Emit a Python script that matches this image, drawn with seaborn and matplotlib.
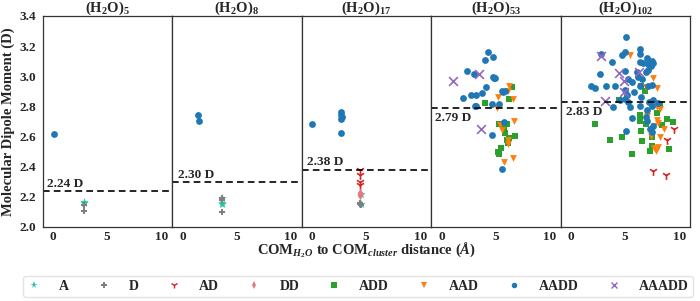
import matplotlib
matplotlib.use("Agg")
import matplotlib.pyplot as plt
import seaborn as sns
import pandas as pd

# clusters and their mean dipole (dashed line)
clusters = ["(H$_2$O)$_5$", "(H$_2$O)$_8$", "(H$_2$O)$_{17}$", "(H$_2$O)$_{53}$", "(H$_2$O)$_{102}$"]
means = [2.24, 2.30, 2.38, 2.79, 2.83]

types = ["A", "D", "AD", "DD", "ADD", "AAD", "AADD", "AAADD"]
colors = ["#22c4a2", "#7f7f7f", "#d62728", "#e8787e", "#2ca02c", "#ff7f0e", "#1f77b4", "#9467bd"]
markers = ["*", "P", "1", "d", "s", "v", "o", "x"]

# (H2O)5
w5_A_x = [2.9, 2.9]
w5_A_y = [2.168, 2.160]
w5_D_x = [2.9, 2.9]
w5_D_y = [2.146, 2.105]
w5_AADD_x = [0.05]
w5_AADD_y = [2.615]

# (H2O)8
w8_AADD_x = [1.4, 1.5]
w8_AADD_y = [2.743, 2.700]
w8_A_x = [3.6, 3.6, 3.6]
w8_A_y = [2.195, 2.157, 2.150]
w8_D_x = [3.6, 3.6, 3.6]
w8_D_y = [2.190, 2.180, 2.100]

# (H2O)17
w17_AADD_x = [0.0, 2.72, 2.72, 2.75, 2.72, 2.72]
w17_AADD_y = [2.683, 2.763, 2.743, 2.730, 2.717, 2.626]
w17_AD_x = [4.47, 4.47, 4.47, 4.47]
w17_AD_y = [2.378, 2.345, 2.300, 2.280]
w17_DD_x = [4.47, 4.47]
w17_DD_y = [2.225, 2.210]
w17_A_x = [4.5, 4.5]
w17_A_y = [2.220, 2.150]
w17_D_x = [4.45, 4.45, 4.5]
w17_D_y = [2.160, 2.150, 2.145]

# (H2O)53
w53_AADD_x = [4.25, 4.04, 4.72, 2.33, 3.01, 4.72, 4.94, 4.1, 3.78, 3.17, 2.7, 1.96, 5.65, 5.9,
              3.07, 4.66, 5.28, 4.62, 5.55, 5.74, 4.8, 5.6, 3.2]
w53_AADD_y = [3.159, 3.106, 3.126, 3.033, 3.017, 2.993, 2.989, 2.931, 2.887, 2.878, 2.874, 2.856,
              2.898, 2.905, 2.803, 2.814, 2.814, 2.612, 2.385, 2.695, 2.99, 2.90, 2.80]
w53_AAADD_x = [1.02, 3.48, 3.69]
w53_AAADD_y = [2.969, 3.017, 2.650]
w53_ADD_x = [6.49, 6.27, 4.04, 5.31, 6.02, 5.8, 5.84, 6.27, 6.8, 6.1, 5.5, 5.18, 5.34, 5.5, 6.0]
w53_ADD_y = [2.931, 2.851, 2.825, 2.681, 2.683, 2.666, 2.622, 2.593, 2.604, 2.555, 2.526, 2.500,
             2.484, 2.68, 2.58]
w53_AAD_x = [6.21, 6.18, 5.25, 6.58, 5.13, 5.41, 6.68, 6.11, 5.81, 6.58, 5.6, 6.1]
w53_AAD_y = [2.938, 2.905, 2.865, 2.849, 2.792, 2.679, 2.703, 2.551, 2.429, 2.456, 2.64, 2.575]

# (H2O)102
w102_AADD_x = [5.03, 2.80, 3.79, 4.69, 4.97, 6.37, 6.40, 6.37, 6.68, 7.05, 7.30, 7.46, 7.14, 7.61,
               7.08, 7.36, 5.0, 2.70, 6.06, 6.15, 6.52, 6.90, 5.65, 5.28, 1.80, 2.17, 3.20, 4.06,
               4.97, 6.37, 7.14, 7.46, 5.84, 5.13, 4.97, 6.46, 3.88, 4.50, 5.28, 5.44, 6.37, 7.24,
               7.55, 8.05, 7.49, 6.99, 5.59, 6.93, 7.05, 7.55, 7.30, 7.46, 5.03]
w102_AADD_y = [3.259, 3.148, 3.095, 3.139, 3.159, 3.179, 3.146, 3.097, 3.090, 3.119, 3.097, 3.101,
               3.082, 3.086, 3.042, 3.068, 3.033, 3.015, 3.031, 2.995, 2.982, 3.031, 2.964, 2.980,
               2.936, 2.920, 2.936, 2.936, 2.909, 2.936, 2.936, 2.940, 2.898, 2.876, 2.851, 2.865,
               2.798, 2.843, 2.832, 2.798, 2.803, 2.832, 2.843, 2.821, 2.803, 2.774, 2.721, 2.728,
               2.705, 2.670, 2.648, 2.632, 2.635]
w102_AAADD_x = [2.80, 4.44, 6.27, 4.90, 4.90, 3.10]
w102_AAADD_y = [3.135, 3.020, 3.031, 2.971, 2.898, 2.838]
w102_ADD_x = [6.46, 6.83, 4.44, 8.23, 6.37, 7.92, 6.37, 6.93, 8.85, 9.41, 2.17, 8.39, 6.43, 3.63,
              4.69, 6.55, 7.51, 7.46, 9.0, 7.30, 5.62]
w102_ADD_y = [2.936, 2.905, 2.843, 2.814, 2.743, 2.754, 2.705, 2.683, 2.715, 2.699, 2.683, 2.677,
              2.639, 2.577, 2.595, 2.573, 2.599, 2.540, 2.518, 2.506, 2.482]
w102_AAD_x = [5.43, 7.61, 6.93, 7.98, 7.92, 8.17, 7.05, 7.92, 7.70, 8.07, 8.54, 7.36, 8.23, 7.70,
              8.01, 7.86]
w102_AAD_y = [3.141, 2.987, 2.927, 2.920, 2.794, 2.781, 2.739, 2.710, 2.670, 2.688, 2.648, 2.604,
              2.599, 2.524, 2.529, 2.504]
w102_AD_x = [9.53, 8.85, 7.61, 8.76]
w102_AD_y = [2.648, 2.577, 2.374, 2.345]

# long table
parts = [
    (0, "A", w5_A_x, w5_A_y), (0, "D", w5_D_x, w5_D_y), (0, "AADD", w5_AADD_x, w5_AADD_y),
    (1, "AADD", w8_AADD_x, w8_AADD_y), (1, "A", w8_A_x, w8_A_y), (1, "D", w8_D_x, w8_D_y),
    (2, "AADD", w17_AADD_x, w17_AADD_y), (2, "AD", w17_AD_x, w17_AD_y), (2, "DD", w17_DD_x, w17_DD_y),
    (2, "A", w17_A_x, w17_A_y), (2, "D", w17_D_x, w17_D_y),
    (3, "AADD", w53_AADD_x, w53_AADD_y), (3, "AAADD", w53_AAADD_x, w53_AAADD_y),
    (3, "ADD", w53_ADD_x, w53_ADD_y), (3, "AAD", w53_AAD_x, w53_AAD_y),
    (4, "AADD", w102_AADD_x, w102_AADD_y), (4, "AAADD", w102_AAADD_x, w102_AAADD_y),
    (4, "ADD", w102_ADD_x, w102_ADD_y), (4, "AAD", w102_AAD_x, w102_AAD_y),
    (4, "AD", w102_AD_x, w102_AD_y),
]
rows = []
for k, t, xs, ys in parts:
    for x, y in zip(xs, ys):
        rows.append({"panel": k, "type": t, "dist": x, "dipole": y})
df = pd.DataFrame(rows)

sns.set_theme(style="white")
plt.rcParams["font.family"] = ["Liberation Serif", "DejaVu Serif"]
plt.rcParams["font.weight"] = "bold"
plt.rcParams["mathtext.fontset"] = "custom"
plt.rcParams["mathtext.rm"] = "Liberation Serif:bold"
plt.rcParams["mathtext.bf"] = "Liberation Serif:bold"
plt.rcParams["mathtext.it"] = "Liberation Serif:italic:bold"
plt.rcParams["mathtext.default"] = "bf"

fig, axes = plt.subplots(1, 5, figsize=(7, 3.01), dpi=100, sharey=True)
fig.subplots_adjust(left=0.061, right=0.986, top=0.947, bottom=0.246, wspace=0)

mean_text = [(-0.55, "bottom", 0.008), (-0.45, "bottom", 0.008), (-0.5, "bottom", 0.008),
             (-0.6, "top", -0.03), (-0.45, "top", -0.03)]

for k, ax in enumerate(axes):
    sub = df[df["panel"] == k]
    for t, c, m in zip(types, colors, markers):
        pts = sub[sub["type"] == t]
        if pts.empty:
            continue
        if m in ("1", "x"):
            sns.scatterplot(data=pts, x="dist", y="dipole", color=c, marker=m, s=40,
                            linewidth=1.2, ax=ax, legend=False)
        else:
            sns.scatterplot(data=pts, x="dist", y="dipole", color=c, marker=m,
                            s=40 if m == "*" else 24, linewidth=0, ax=ax, legend=False)
    ax.axhline(means[k], ls="--", color="black", lw=1.2, dashes=(4, 2.5))
    xt, va, dy = mean_text[k]
    ax.text(xt, means[k] + dy, f"{means[k]:.2f} D", va=va, ha="left",
            fontsize=9.5, fontweight="bold")
    ax.set_title(clusters[k], fontsize=10.5, fontweight="bold", pad=3)
    ax.set_xlim(-0.95, 11.0)
    ax.set_ylim(2.0, 3.4)
    ax.set_xticks([0, 5, 10])
    ax.set_xlabel("")
    ax.set_ylabel("")
    ax.tick_params(labelsize=9.5, length=0, pad=3)
    for lab in ax.get_xticklabels() + ax.get_yticklabels():
        lab.set_fontweight("bold")
    for sp in ax.spines.values():
        sp.set_color("#333333")
        sp.set_linewidth(0.9)

axes[0].set_yticks([2.0, 2.2, 2.4, 2.6, 2.8, 3.0, 3.2, 3.4])
axes[0].set_yticklabels([f"{v:.1f}" for v in [2.0, 2.2, 2.4, 2.6, 2.8, 3.0, 3.2, 3.4]],
                        fontweight="bold")
axes[0].tick_params(axis="y", pad=5)
axes[0].set_ylabel("Molecular Dipole Moment (D)", fontsize=10.5, fontweight="bold", labelpad=3)

fig.text(0.523, 0.168, r"COM$_{\mathit{H_2O}}$ to COM$_{\mathit{cluster}}$ distance ($\mathit{\AA}$)",
         ha="center", va="center", fontsize=10.5, fontweight="bold")

handles = []
for t, c, m in zip(types, colors, markers):
    if m in ("1", "x"):
        h = plt.Line2D([], [], ls="", marker=m, color=c, markersize=5, markeredgewidth=1.0)
    else:
        h = plt.Line2D([], [], ls="", marker=m, color=c, markersize=5.5 if m == "*" else 4,
                       markeredgewidth=0)
    handles.append(h)
leg = fig.legend(handles, types, loc="lower left", ncol=8, mode="expand",
                 bbox_to_anchor=(23 / 700, 4 / 301, 670 / 700, 22 / 301), borderaxespad=0,
                 frameon=True, fontsize=10, handlelength=1.0, handletextpad=1.3, borderpad=0.3)
for txt in leg.get_texts():
    txt.set_fontweight("bold")
leg.get_frame().set_edgecolor("#dddddd")

fig.savefig("out.png", dpi=100)
